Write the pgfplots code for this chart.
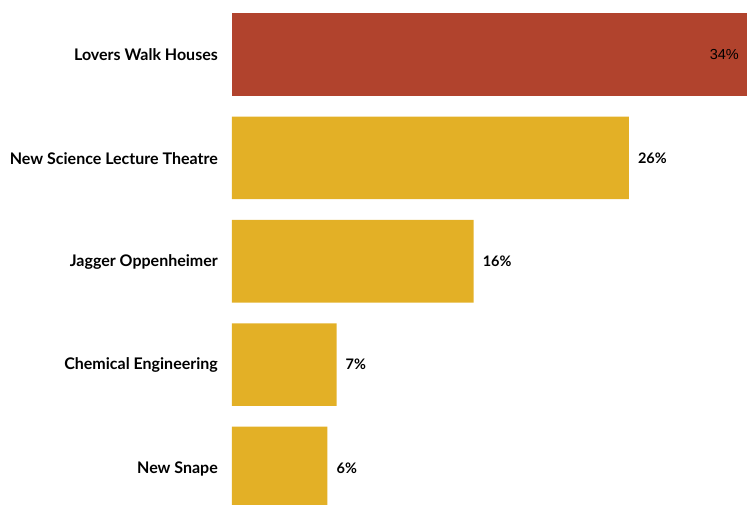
\documentclass[border=0pt]{standalone}
\usepackage{pgfplots}
\pgfplotsset{compat=1.18}
\usepackage{fontspec}
\setmainfont{Lato}
\newfontfamily\arialf{Liberation Sans}
\definecolor{barred}{RGB}{177,67,45}
\definecolor{baryel}{RGB}{227,176,38}
\begin{document}
\begin{tikzpicture}
\useasboundingbox (0,0) rectangle (755pt,505pt);
\clip (0,0) rectangle (755pt,505pt);
\begin{axis}[
  at={(232pt,-14.7pt)}, anchor=south west,
  scale only axis, width=515pt, height=516.9pt,
  xmin=0, xmax=34, ymin=-0.5, ymax=4.5,
  xbar, bar shift=0pt, bar width=0.8,
  axis line style={draw=none}, xtick=\empty,
  ytick={0,1,2,3,4},
  yticklabels={New Snape, Chemical Engineering, Jagger Oppenheimer, New Science Lecture Theatre, Lovers Walk Houses},
  major tick length=0pt,
  yticklabel style={font=\fontsize{16}{19}\selectfont\bfseries, anchor=east, inner sep=0pt, xshift=-14pt, yshift=-0.5pt},
  point meta=explicit symbolic,
  clip=false,
]
\addplot[draw=none, fill=barred,
  nodes near coords, every node near coord/.append style={font=\arialf\fontsize{14.5}{16}\selectfont, anchor=east, xshift=-8pt, inner sep=0pt, text=black}]
  coordinates {(34,4) [34\%]};
\addplot[draw=none, fill=baryel,
  nodes near coords, every node near coord/.append style={font=\fontsize{14.5}{16}\selectfont\bfseries, anchor=west, xshift=9pt, inner sep=0pt}]
  coordinates {(26.2,3) [26\%] (15.95,2) [16\%] (6.9,1) [7\%] (6.3,0) [6\%]};
\end{axis}
\end{tikzpicture}
\end{document}
